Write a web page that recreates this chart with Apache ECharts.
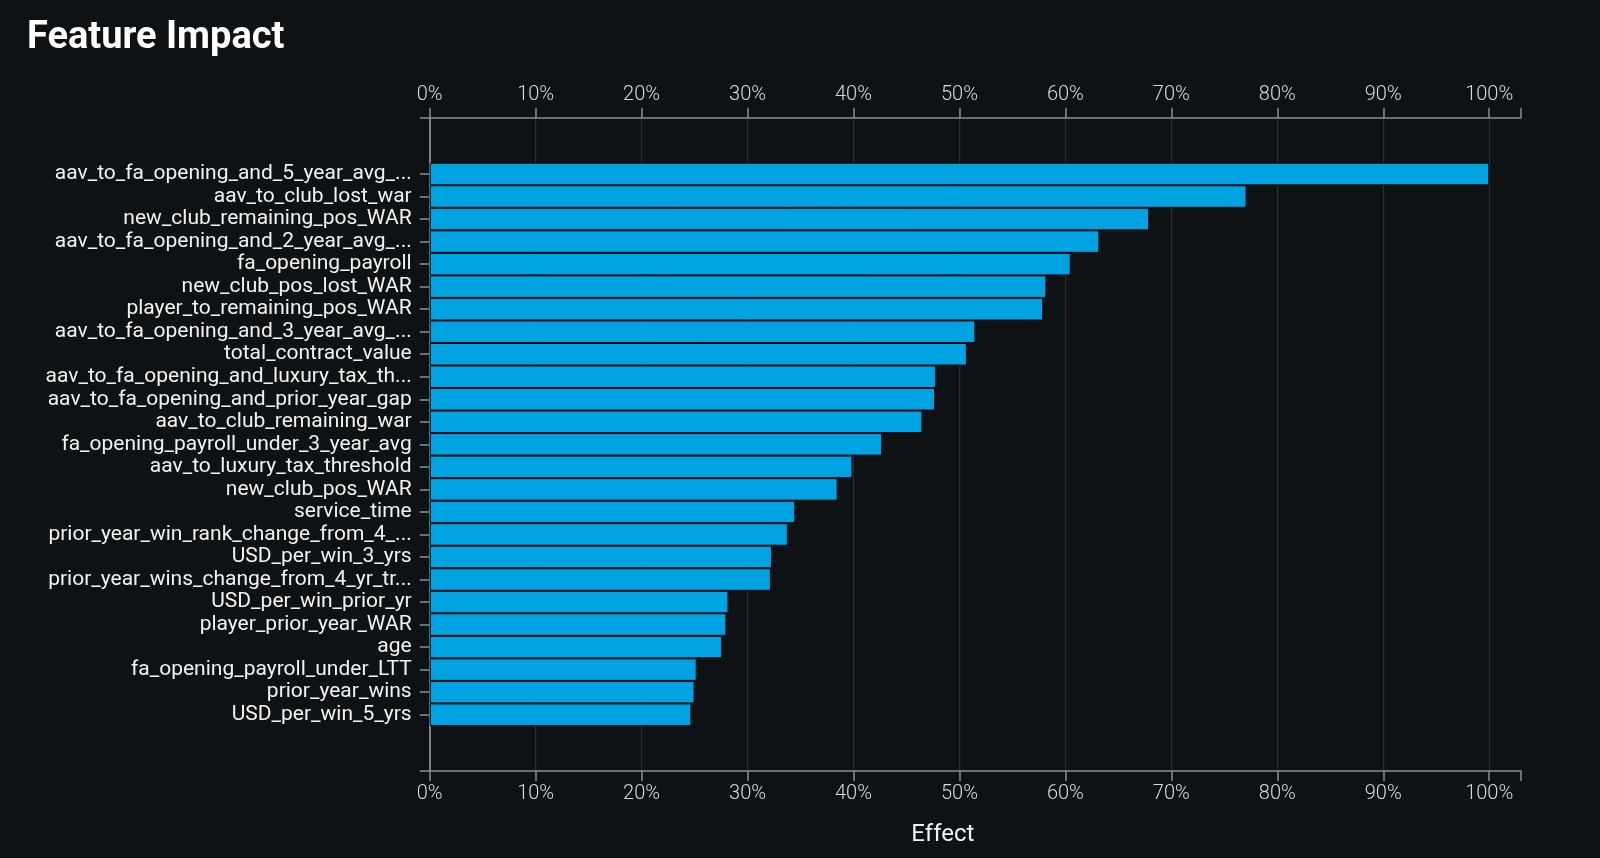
<!DOCTYPE html>
<html>
<head>
<meta charset="utf-8">
<script src="https://cdn.jsdelivr.net/npm/echarts@6/dist/echarts.min.js"></script>
<style>
html,body{margin:0;padding:0;background:#0e1215;}
#chart{width:1600px;height:858px;}
</style>
</head>
<body>
<div id="chart"></div>
<script>
const categories = [
  'aav_to_fa_opening_and_5_year_avg_...',
  'aav_to_club_lost_war',
  'new_club_remaining_pos_WAR',
  'aav_to_fa_opening_and_2_year_avg_...',
  'fa_opening_payroll',
  'new_club_pos_lost_WAR',
  'player_to_remaining_pos_WAR',
  'aav_to_fa_opening_and_3_year_avg_...',
  'total_contract_value',
  'aav_to_fa_opening_and_luxury_tax_th...',
  'aav_to_fa_opening_and_prior_year_gap',
  'aav_to_club_remaining_war',
  'fa_opening_payroll_under_3_year_avg',
  'aav_to_luxury_tax_threshold',
  'new_club_pos_WAR',
  'service_time',
  'prior_year_win_rank_change_from_4_...',
  'USD_per_win_3_yrs',
  'prior_year_wins_change_from_4_yr_tr...',
  'USD_per_win_prior_yr',
  'player_prior_year_WAR',
  'age',
  'fa_opening_payroll_under_LTT',
  'prior_year_wins',
  'USD_per_win_5_yrs'
];
const effectValues = [100, 77.1, 67.9, 63.2, 60.5, 58.2, 57.9, 51.5, 50.7, 47.8, 47.7, 46.5, 42.7, 39.9, 38.5, 34.5, 33.8, 32.3, 32.2, 28.2, 28.0, 27.6, 25.2, 25.0, 24.7];
const xTickValues = [0, 10, 20, 30, 40, 50, 60, 70, 80, 90, 100];

// padding bands (empty) above and below the bars
const padTop = ['\u200b', '\u200b\u200b'];
const padBottom = ['\u200b\u200b\u200b', '\u200b\u200b\u200b\u200b'];
const yData = padTop.concat(categories, padBottom);
const barData = padTop.map(() => '-').concat(effectValues, padBottom.map(() => '-'));
const isReal = (v) => categories.indexOf(v) >= 0;

const axisGray = '#8d8d8d';
const gridGray = '#2a2e33';
const fmt = (v) => xTickValues.indexOf(Math.round(v)) >= 0 && Math.abs(v - Math.round(v)) < 1e-6 ? v + '%' : '';

const xCommon = {
  type: 'value', min: 0, max: 103, interval: 10,
  axisLine: { show: true, onZero: false, lineStyle: { color: axisGray, width: 1.5 } },
  axisTick: { show: true, length: 10, lineStyle: { color: axisGray, width: 1.5 } },
  axisLabel: { formatter: fmt, color: '#d8d8d8', fontSize: 20, fontWeight: 300, fontFamily: 'Roboto', margin: 13 }
};

const chart = echarts.init(document.getElementById('chart'), null, { renderer: 'canvas' });
chart.setOption({
  backgroundColor: '#0e1215',
  animation: false,
  title: {
    text: 'Feature Impact', left: 22, top: 14,
    textStyle: { color: '#ffffff', fontSize: 38, fontWeight: 'bold', fontFamily: 'Roboto' }
  },
  grid: { left: 429.7, right: 79, top: 117.7, bottom: 87, containLabel: false },
  xAxis: [
    Object.assign({}, xCommon, {
      position: 'top',
      splitLine: { show: true, showMinLine: false, showMaxLine: false, lineStyle: { color: gridGray, width: 1.2 } }
    }),
    Object.assign({}, xCommon, {
      position: 'bottom',
      splitLine: { show: false },
      name: 'Effect', nameLocation: 'middle', nameGap: 52,
      nameTextStyle: { color: '#f2f2f2', fontSize: 24, fontFamily: 'Roboto', padding: [0, 65, 0, 0] }
    })
  ],
  yAxis: [
    {
      type: 'category', data: yData, inverse: true, position: 'left',
      axisLine: { show: true, onZero: false, lineStyle: { color: axisGray, width: 1.5 } },
      axisTick: { show: true, alignWithLabel: true, length: 10, interval: (i, v) => isReal(v), lineStyle: { color: axisGray, width: 1.5 } },
      axisLabel: { interval: 0, color: '#f2f2f2', fontSize: 21, fontFamily: 'Roboto', margin: 18 },
      splitLine: { show: false }
    },
    {
      type: 'value', min: 0, max: 1, interval: 1, position: 'left',
      axisLine: { show: true, onZero: false, lineStyle: { color: axisGray, width: 1.5 } },
      axisTick: { show: true, length: 10, lineStyle: { color: axisGray, width: 1.5 } },
      axisLabel: { show: false },
      splitLine: { show: false }
    }
  ],
  series: [{
    type: 'bar', xAxisIndex: 0, yAxisIndex: 0,
    data: barData,
    barCategoryGap: '0%',
    itemStyle: { color: '#00a3e2', borderColor: '#07090b', borderWidth: 1 },
    emphasis: { disabled: true }
  }]
});
</script>
</body>
</html>
